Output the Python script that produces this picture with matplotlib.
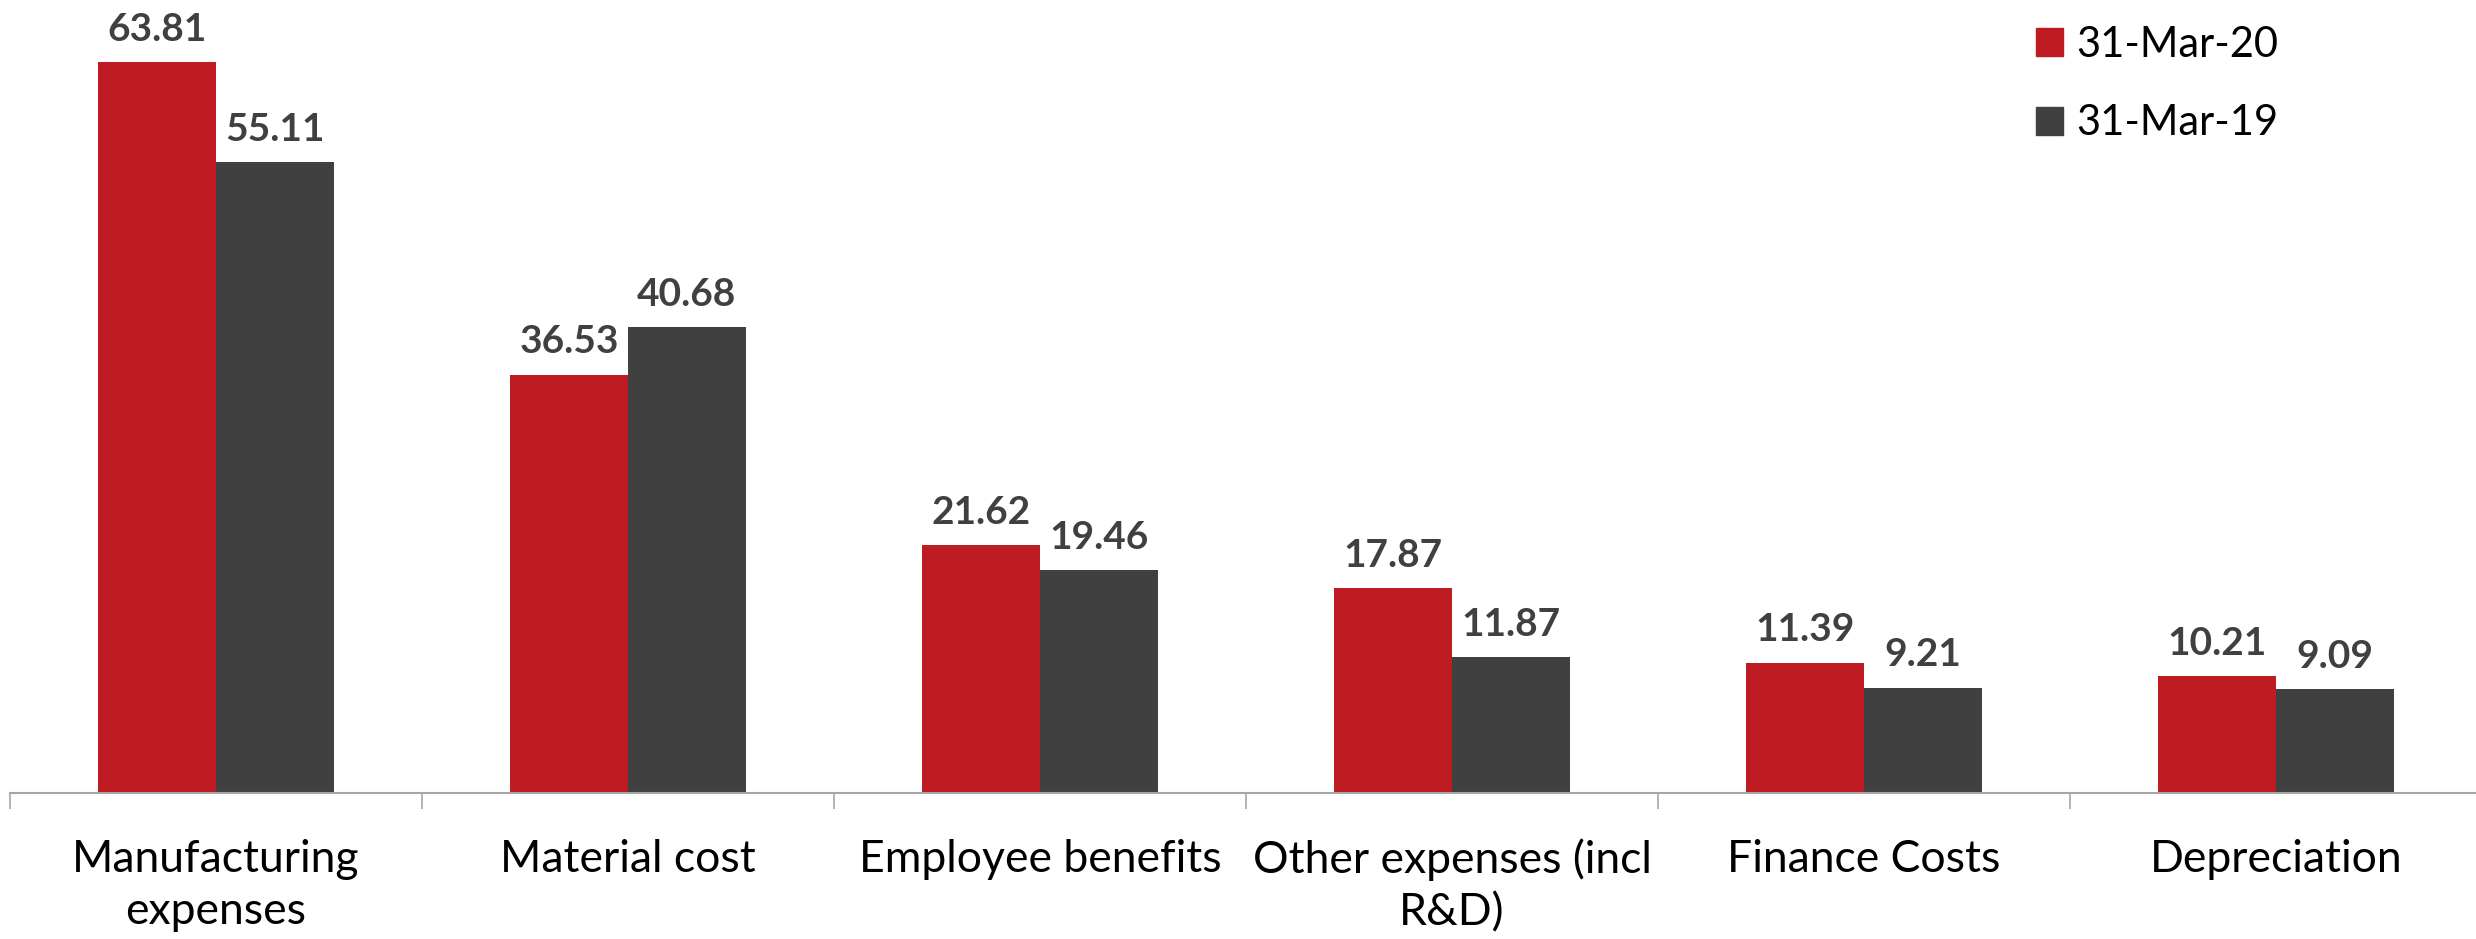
import matplotlib
matplotlib.use("Agg")
import matplotlib.pyplot as plt
from matplotlib.patches import Patch
import numpy as np

categories = ["Manufacturing\nexpenses", "Material cost", "Employee benefits",
              "Other expenses (incl\nR&D)", "Finance Costs", "Depreciation"]
series_names = ["31-Mar-20", "31-Mar-19"]
values_2020 = [63.81, 36.53, 21.62, 17.87, 11.39, 10.21]
values_2019 = [55.11, 40.68, 19.46, 11.87, 9.21, 9.09]

RED = "#BE1B23"
DARK = "#404040"
FONT = "Lato"

W, H = 2476, 939
fig = plt.figure(figsize=(W / 100, H / 100), dpi=100)
ax = fig.add_axes([10 / W, (H - 793) / H, 2472 / W, 793 / H])

x = np.arange(len(categories))
bw = 0.286
b1 = ax.bar(x - bw / 2, values_2020, bw, color=RED, label=series_names[0])
b2 = ax.bar(x + bw / 2, values_2019, bw, color=DARK, label=series_names[1])

for bars in (b1, b2):
    for r in bars:
        ax.annotate(f"{r.get_height():.2f}", (r.get_x() + r.get_width() / 2, r.get_height()),
                    xytext=(0, 11), textcoords="offset points", ha="center", va="bottom",
                    fontsize=28, fontweight="bold", color=DARK, family=FONT)

ax.set_xlim(-0.5, len(categories) - 0.5)
ax.set_ylim(0, 69.26)
ax.set_xticks(x)
ax.set_xticklabels(categories, fontsize=32, family=FONT, linespacing=1.33)
ax.tick_params(axis="x", which="major", length=0, pad=33)
ax.set_xticks(np.arange(-0.5, len(categories)), minor=True)
ax.tick_params(axis="x", which="minor", length=11.5, width=1.2, color="#A6A6A6")
ax.set_yticks([])
for s in ("top", "left", "right"):
    ax.spines[s].set_visible(False)
ax.spines["bottom"].set_color("#A6A6A6")
ax.spines["bottom"].set_linewidth(1.5)

handles = [Patch(color=RED), Patch(color=DARK)]
fig.legend(handles, series_names, loc="upper left", bbox_to_anchor=(2036 / W, 1 - 26 / H),
           frameon=False, prop={"family": FONT, "size": 30},
           handlelength=0.65, handleheight=0.65, handletextpad=0.32,
           labelspacing=0.97, borderpad=0, borderaxespad=0)

fig.savefig("out.png", dpi=100)
